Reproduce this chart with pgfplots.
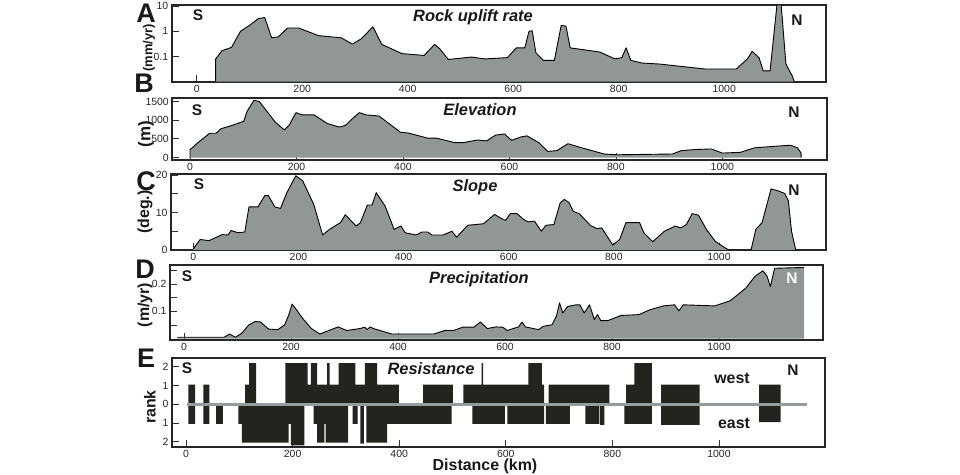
\documentclass[border=0pt]{standalone}
\usepackage{fontspec}
\setmainfont{Liberation Sans}
\usepackage{pgfplots}
\usepackage{pgfplotstable}
\pgfplotsset{compat=1.18}
\definecolor{fillgray}{RGB}{145,151,151}
\definecolor{bardark}{RGB}{34,36,32}
\definecolor{linegray}{RGB}{150,156,156}

\pgfplotstableread{
x y
36 0.01
36 0.08
48 0.17
66 0.23
83 1.0
100 1.7
117 3.2
129 3.5
142 0.55
155 0.6
172 1.35
193 1.35
231 0.67
274 0.55
295 0.31
312 0.5
334 1.5
351 0.3
389 0.13
431 0.11
451 0.3
461 0.2
477 0.076
521 0.095
546 0.08
589 0.09
606 0.22
622 0.22
630 1.0
636 1.05
643 0.14
657 0.07
678 0.07
691 1.7
700 1.6
708 0.22
764 0.15
793 0.08
806 0.09
814 0.22
823 0.07
844 0.055
878 0.05
963 0.032
1023 0.032
1044 0.08
1053 0.16
1066 0.09
1074 0.027
1087 0.027
1100 11
1108 11
1117 0.05
1129 0.017
1133 0.01
}\dataA

\pgfplotstableread{
x y
0 0
0 210
15 400
37 650
49 650
58 770
79 860
101 970
107 1230
120 1530
130 1500
160 950
177 740
186 860
199 1200
211 1140
233 1140
258 910
280 815
292 860
305 1040
318 1200
331 1140
355 1110
395 680
412 650
446 520
463 520
497 400
514 400
540 470
557 445
574 600
591 630
604 460
621 550
633 580
655 400
672 165
689 185
710 370
736 260
778 95
804 75
906 95
923 185
949 215
979 230
1000 120
1034 140
1060 260
1102 305
1128 330
1141 260
1148 120
1148 0
}\dataB

\pgfplotstableread{
x y
0 0.3
13 2.8
30 2.5
55 4.1
66 4.0
72 5.2
85 4.6
98 4.8
106 11.5
123 11.5
136 14.5
143 14.5
155 11.5
166 11.1
178 15.3
195 19.8
208 18.5
229 12.2
246 4.0
259 5.5
280 7.3
289 9.4
310 6.4
318 7.3
331 12.0
340 12.0
348 15.3
365 11.7
382 5.5
395 6.4
403 4.6
424 4.0
435 4.8
446 4.8
454 4.0
475 4.0
492 5.0
501 3.4
522 6.6
552 7.0
573 9.5
586 8.4
594 7.9
603 9.7
616 9.7
628 8.2
637 7.5
649 7.7
662 5.0
671 6.6
686 6.8
698 12.6
706 13.5
715 12.6
723 10.3
734 9.7
756 6.5
768 5.7
777 5.9
798 1.3
811 2.8
823 7.3
849 7.3
857 4.6
874 2.2
896 5.0
917 6.4
927 5.9
938 6.8
949 9.7
961 9.3
976 5.5
993 2.3
1010 0.7
1019 0
1061 0
1070 5.5
1082 7.3
1099 16.3
1112 15.8
1125 15.1
1132 13.1
1138 5
1146 0
}\dataC

\pgfplotstableread{
x y
-12.5 0.005
75 0.005
85 0.017
96 0.005
108 0.02
121 0.05
133 0.063
143 0.061
158 0.035
175 0.033
188 0.05
196 0.088
202 0.127
208 0.112
221 0.076
238 0.037
254 0.017
271 0.03
288 0.043
304 0.03
329 0.037
338 0.042
342 0.033
348 0.043
354 0.037
388 0.017
467 0.017
488 0.03
504 0.03
521 0.042
542 0.042
554 0.061
567 0.037
583 0.043
596 0.042
604 0.03
625 0.043
632 0.061
638 0.043
663 0.033
671 0.045
688 0.051
696 0.082
702 0.131
708 0.094
717 0.118
733 0.124
740 0.124
748 0.094
758 0.124
767 0.07
773 0.088
779 0.066
792 0.066
817 0.085
850 0.088
871 0.106
896 0.12
917 0.124
925 0.102
933 0.124
992 0.12
1021 0.139
1050 0.185
1067 0.228
1082 0.249
1090 0.228
1096 0.191
1104 0.258
1159 0.261
}\dataD

\pgfplotstableread{
x y
4.4 1.05
16.9 0
32.6 1.05
43.9 0
111 1.05
118.5 2.2
131.7 0
186.2 2.2
228.2 1.05
234.5 2.2
245.8 1.05
264.6 2.2
269.6 1.05
286.5 2.2
317.8 1.05
335.4 2.2
358.6 1.05
399.3 0
445.1 1.05
500.9 0
520.3 1.05
554.8 2.2
557.3 1.05
642.6 2.2
667.7 1.05
672 0
680.2 1.05
794.3 0
825.7 1.05
841.3 2.2
873.9 0
891.5 1.05
963.6 0
1075.2 1.05
1115.9 0
}\dataWest

\pgfplotstableread{
x y
4.4 -1.05
16.9 0
32.6 -1.05
43.9 0
56.4 -1.05
69 0
98.4 -1.05
104.7 -2.05
192.5 -1.05
196.9 -2.2
221.9 0
239.5 -1.05
245.8 -2.05
259.5 -1.05
262 -2.05
304.1 0
312.8 -1.05
322.2 0
327.3 -2.1
333.5 0
338.5 -2.05
377.4 -1.05
498.4 0
537.3 -1.05
598.1 0
603.1 -1.05
672 0
675.2 -1.05
720.3 0
749.2 -1.05
775.5 0
776.8 -1.1
784.9 0
822.5 -1.05
873.9 0
891.5 -1.1
963.6 0
1075.2 -0.95
1115.9 0
}\dataEast

\pgfplotsset{panel/.style={
  scale only axis, anchor=south west,
  axis line style={line width=1.8bp, black!85},
  tick pos=left, tick align=inside,
  major tick length=7bp,
  tick style={line width=0.8bp, black!80},
  xtick={0,200,400,600,800,1000},
  xticklabels={0,200,400,600,800,1000},
  tick label style={font=\fontsize{10.5}{11}\selectfont, black!85},
  /pgf/number format/assume math mode=true,
  /pgf/number format/1000 sep={},
  yminorticks=false, xminorticks=false,
}}
\tikzset{
  pletter/.style={font=\bfseries\fontsize{27}{27}\selectfont, black!90, inner sep=0pt},
  ttl/.style={font=\bfseries\itshape\fontsize{16.5}{17}\selectfont, black!90},
  sn/.style={font=\bfseries\fontsize{15.5}{16}\selectfont, black!90},
  ylab/.style={font=\bfseries\fontsize{16}{16}\selectfont, rotate=90, black!90, inner sep=0.5pt},
}

\begin{document}
\begin{tikzpicture}
\useasboundingbox (0,0) rectangle (960bp,475bp);

% A
\begin{axis}[panel, at={(171.7bp,393.3bp)}, width=654.3bp, height=76.7bp,
  xmin=-47.4, xmax=1193, ymode=log, ymin=0.01, ymax=11,
  ytick={0.1,1,10}, yticklabels={0.1,1,10}]
\addplot[fill=fillgray, draw=none] table {\dataA};
\addplot[black, line width=0.9bp, line join=round] table {\dataA};
\end{axis}

% B
\begin{axis}[panel, at={(172.3bp,315bp)}, width=654.4bp, height=62bp,
  xmin=-33.3, xmax=1196, ymin=-65, ymax=1592,
  ytick={0,500,1000,1500}, yticklabels={0,500,1000,1500}]
\addplot[fill=fillgray, draw=none] table {\dataB} \closedcycle;
\addplot[black, line width=0.9bp, line join=round] table {\dataB};
\end{axis}

% C
\begin{axis}[panel, at={(171bp,225bp)}, width=654.7bp, height=75.7bp,
  xmin=-42.4, xmax=1203, ymin=0, ymax=20.2,
  ytick={0,5,10,15,20}, yticklabels={0,,10,,20}]
\addplot[fill=fillgray, draw=none] table {\dataC} \closedcycle;
\addplot[black, line width=0.9bp, line join=round] table {\dataC};
\end{axis}

% D
\begin{axis}[panel, at={(170bp,135bp)}, width=653bp, height=75bp,
  xmin=-26.2, xmax=1194.4, ymin=-0.005, ymax=0.27,
  ytick={0.05,0.1,0.15,0.2,0.25}, yticklabels={,0.1,,0.2,}]
\addplot[fill=fillgray, draw=none] table {\dataD} \closedcycle;
\addplot[black, line width=0.9bp, line join=round] table {\dataD};
\end{axis}

% E
\begin{axis}[panel, at={(172bp,28.3bp)}, width=653bp, height=88.4bp,
  xmin=-26.3, xmax=1199, ymin=-2.27, ymax=2.46,
  ytick={-2,-1,0,1,2}, yticklabels={2,1,0,1,2}]
\addplot[const plot mark left, fill=bardark, draw=none] table {\dataWest} \closedcycle;
\addplot[const plot mark left, fill=bardark, draw=none] table {\dataEast} \closedcycle;
\addplot[linegray, line width=3bp] coordinates {(2,0) (1165,0)};
\end{axis}

% panel letters
\node[pletter] at (146bp,462bp) {A};
\node[pletter] at (144bp,391.5bp) {B};
\node[pletter] at (146bp,294bp) {C};
\node[pletter] at (145bp,205.5bp) {D};
\node[pletter] at (146bp,117bp) {E};

% y labels
\node[ylab, font=\bfseries\fontsize{13}{13}\selectfont] at (149bp,427bp) {(mm/yr)};
\node[ylab, font=\bfseries\fontsize{17}{17}\selectfont] at (146bp,341bp) {(m)};
\node[ylab] at (145bp,263bp) {(deg.)};
\node[ylab] at (145bp,170bp) {(m/yr)};
\node[ylab, font=\bfseries\fontsize{16}{16}\selectfont] at (150bp,68bp) {rank};

% titles
\node[ttl] at (473bp,458bp) {Rock uplift rate};
\node[ttl] at (480bp,365bp) {Elevation};
\node[ttl] at (475bp,288bp) {Slope};
\node[ttl] at (479bp,196bp) {Precipitation};
\node[ttl] at (431bp,106bp) {Resistance};

% S / N
\node[sn] at (198bp,460bp) {S};
\node[sn] at (797bp,455bp) {N};
\node[sn] at (197bp,365bp) {S};
\node[sn] at (794bp,363bp) {N};
\node[sn] at (199bp,291bp) {S};
\node[sn] at (794bp,285bp) {N};
\node[sn] at (187bp,199bp) {S};
\node[sn, white] at (792bp,197bp) {N};
\node[sn] at (187bp,107bp) {S};
\node[sn] at (793bp,105bp) {N};
\node[sn, font=\bfseries\fontsize{16}{16}\selectfont] at (732bp,97bp) {west};
\node[sn, font=\bfseries\fontsize{16}{16}\selectfont] at (734bp,52bp) {east};

\node[font=\bfseries\fontsize{16}{16}\selectfont, black!90] at (485bp,8.5bp) {Distance (km)};
\end{tikzpicture}
\end{document}
